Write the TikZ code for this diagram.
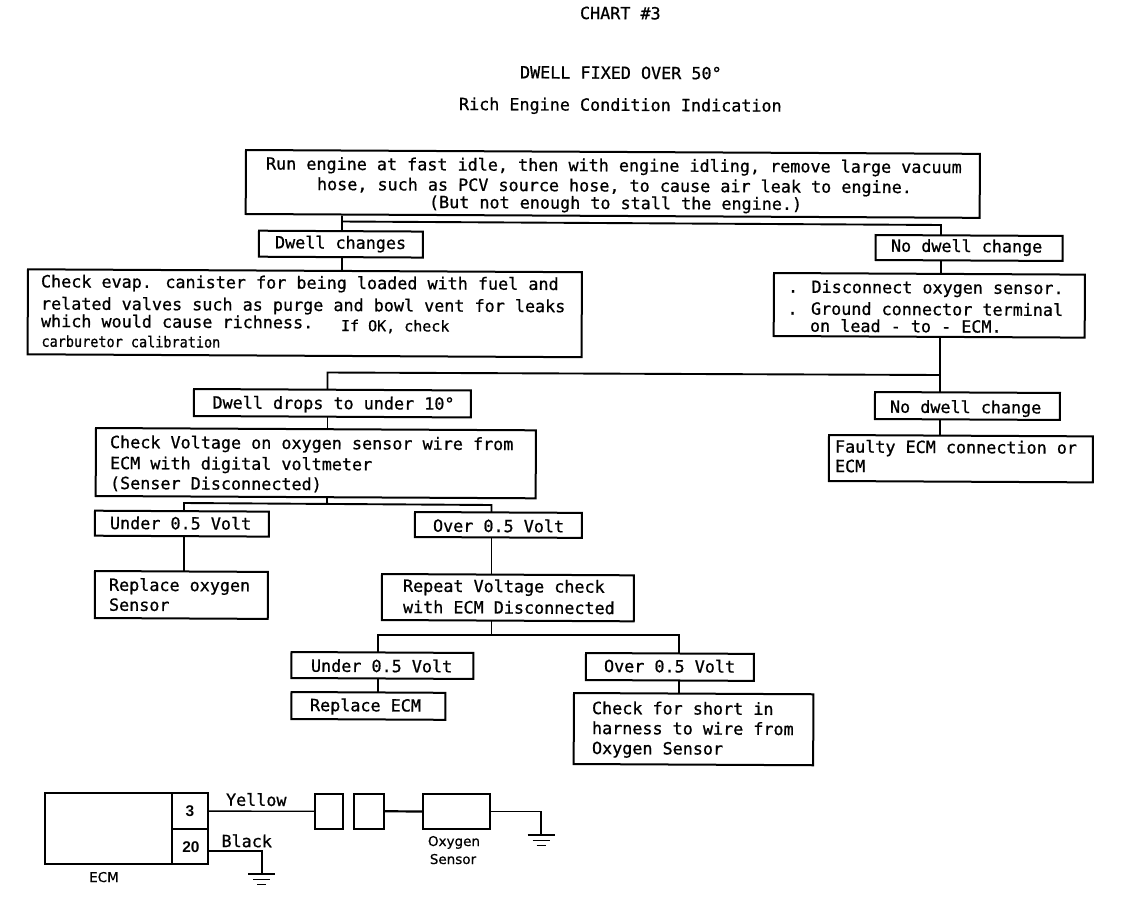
\documentclass[tikz,border=0pt]{standalone}
\usepackage{fontspec}
\setmainfont[RawFeature={embolden=0.8}]{DejaVu Sans Mono}
\newfontfamily\sansf[RawFeature={embolden=0.6}]{DejaVu Sans}
\newfontfamily\pinf{Liberation Sans}
\tikzset{
 bx/.style={draw=black,line width=2pt,fill=white,inner sep=0pt,outer sep=0pt,anchor=north west,rotate=-0.3},
 tx/.style={inner sep=0pt,outer sep=0pt,anchor=base west,rotate=-0.3,font=\fontsize{16.75}{18}\selectfont},
 lnk/.style={draw=black,line width=1.9pt},
 sbx/.style={draw=black,line width=2pt,fill=white,inner sep=0pt,outer sep=0pt,anchor=north west},
 wire/.style={draw=black,line width=1.4pt},
 heavywire/.style={draw=black,line width=2.2pt},
 lab/.style={inner sep=0pt,outer sep=0pt,anchor=base,font=\sansf\fontsize{13.5}{15}\selectfont},
 pin/.style={inner sep=0pt,outer sep=0pt,anchor=center,font=\pinf\bfseries\fontsize{15.5}{17}\selectfont},
}
\newcommand{\bxn}[5]{\node[bx,minimum width=#4pt,minimum height=#5pt] (#1) at (#2pt,-#3pt) {};}
\newcommand{\sbxn}[5]{\node[sbx,minimum width=#4pt,minimum height=#5pt] (#1) at (#2pt,-#3pt) {};}
\newcommand{\tl}[4]{\node[tx] (#1) at (#2pt,-#3pt) {#4};}
\newcommand{\gnd}[3]{%
 \draw[wire] (#1pt,-#2pt) ++(-13.5pt,0) -- ++(27pt,0);
 \draw[wire] (#1pt,-#2pt) ++(-8.5pt,-5.5pt) -- ++(17pt,0);
 \draw[wire,line width=1.8pt] (#1pt,-#2pt) ++(-4.5pt,-10.5pt) -- ++(9pt,0);}
\begin{document}
\begin{tikzpicture}[x=1pt,y=1pt]
\useasboundingbox (0,0) rectangle (1136,-916);
\fill[white] (0,0) rectangle (1136,-916);
% boxes
\bxn{a}{246}{150}{734}{64}
\bxn{b}{259}{230.7}{164}{26}
\bxn{c}{875.7}{235}{187}{25}
\bxn{d}{28}{269.3}{554}{85}
\bxn{e}{774}{273}{311}{63}
\bxn{f}{194}{389}{277}{27}
\bxn{g}{875}{392}{185}{27}
\bxn{h}{96}{428}{440}{68}
\bxn{i}{829}{435}{264}{46}
\bxn{j}{95}{510.7}{174}{25}
\bxn{k}{415}{512}{167}{25}
\bxn{l}{95}{571}{173}{47}
\bxn{m}{382}{574}{252}{46}
\bxn{n}{291.5}{652}{182}{26}
\bxn{o}{586}{653}{168}{27}
\bxn{p}{291.5}{692}{154}{27}
\bxn{q}{574}{693}{239.5}{71}
% junctions
\coordinate (j1) at (342,-221.5);
\coordinate (j2) at (941,-225);
\coordinate (j3) at (327.5,-372.5);
\coordinate (j4) at (940,-375);
\coordinate (j5) at (184,-503);
\coordinate (j6) at (491.5,-505);
\coordinate (j0) at (327,-503.8);
\coordinate (j7) at (377.6,-635);
\coordinate (j8) at (679,-635);
\coordinate (j9) at (491.5,-635);
% connectors
\draw[lnk] (j1 |- a.south) -- (j1) -- (j2) -- (j2 |- c.north);
\draw[lnk] (j1) -- (j1 |- b.north);
\draw[lnk] (j1 |- b.south) -- (j1 |- d.north);
\draw[lnk] (j2 |- c.south) -- (j2 |- e.north);
\draw[lnk] (j4 |- e.south) -- (j4) -- (j4 |- g.north);
\draw[lnk] (j4) -- (j3) -- (j3 |- f.north);
\draw[lnk] (j3 |- f.south) -- (j3 |- h.north);
\draw[lnk] (j4 |- g.south) -- (j4 |- i.north);
\draw[lnk] (j0 |- h.south) -- (j0);
\draw[lnk] (j5 |- j.north) -- (j5) -- (j6) -- (j6 |- k.north);
\draw[lnk] (j5 |- j.south) -- (j5 |- l.north);
\draw[lnk] (j6 |- k.south) -- (j6 |- m.north);
\draw[lnk] (j9 |- m.south) -- (j9);
\draw[lnk] (j7 |- n.north) -- (j7) -- (j8) -- (j8 |- o.north);
\draw[lnk] (j7 |- n.south) -- (j7 |- p.north);
\draw[lnk] (j8 |- o.south) -- (j8 |- q.north);
% titles
\tl{t1}{580}{19}{CHART \#3}
\tl{t2}{520}{78.3}{DWELL FIXED OVER 50\textdegree}
\tl{t3}{459}{110}{Rich Engine Condition Indication}
% text
\tl{ta1}{266}{169.5}{Run engine at fast idle, then with engine idling, remove large vacuum}
\tl{ta2}{317}{190}{hose, such as PCV source hose, to cause air leak to engine.}
\tl{ta3}{429}{208}{(But not enough to stall the engine.)}
\tl{tb}{275}{248.3}{Dwell changes}
\tl{tc}{891}{251.7}{No dwell change}
\tl{td1}{41}{287.3}{Check evap. canister for being loaded with fuel and}
\tl{td2}{41}{309.5}{related valves such as purge and bowl vent for leaks}
\tl{td3}{41}{327}{which would cause richness.}
\node[tx,font=\fontsize{15}{17}\selectfont] (td4) at (341pt,-331pt) {If OK, check};
\node[tx,xscale=0.9,font=\fontsize{15}{17}\selectfont] (td5) at (41.5pt,-346.7pt) {carburetor calibration};
\tl{te1}{788}{292.7}{. Disconnect oxygen sensor.}
\tl{te2}{787.5}{314.5}{. Ground connector terminal}
\tl{te3}{810}{331.7}{on lead - to - ECM.}
\tl{tf}{212.5}{408.5}{Dwell drops to under 10\textdegree}
\tl{tg}{890}{412.7}{No dwell change}
\tl{th1}{110}{448}{Check Voltage on oxygen sensor wire from}
\tl{th2}{110}{469}{ECM with digital voltmeter}
\tl{th3}{110}{489}{(Senser Disconnected)}
\tl{ti1}{835}{452.5}{Faulty ECM connection or}
\tl{ti2}{835}{472}{ECM}
\tl{tj}{110}{529}{Under 0.5 Volt}
\tl{tk}{433}{531.7}{Over 0.5 Volt}
\tl{tl1}{109}{590.7}{Replace oxygen}
\tl{tl2}{109}{610.7}{Sensor}
\tl{tm1}{403}{591.7}{Repeat Voltage check}
\tl{tm2}{403}{613}{with ECM Disconnected}
\tl{tn}{311}{671.7}{Under 0.5 Volt}
\tl{to}{604}{672}{Over 0.5 Volt}
\tl{tp}{310}{711}{Replace ECM}
\tl{tq1}{592}{714}{Check for short in}
\tl{tq2}{592}{734}{harness to wire from}
\tl{tq3}{592}{754}{Oxygen Sensor}
% wiring diagram
\sbxn{ecm}{45}{793.3}{127.4}{71}
\sbxn{p3}{172.4}{793.3}{35.6}{35.7}
\sbxn{p20}{172.4}{829}{35.6}{35.3}
\sbxn{c1}{315}{793.5}{28}{35.5}
\sbxn{c2}{354.4}{793.5}{29.6}{35.5}
\sbxn{sen}{423}{794}{67.4}{35}
\coordinate (g1) at (541,-835);
\coordinate (g2) at (261.7,-874);
\draw[wire] (p3.east) -- (c1.west);
\draw[heavywire] (c2.east) -- (sen.west);
\draw[wire] (sen.east) -| (g1);
\draw[heavywire] (p20.east) ++(0,-4pt) -| (g2);
\gnd{541}{835}{}
\gnd{261.7}{874}{}
\node[pin] (n3) at (190pt,-811pt) {3};
\node[pin] (n20) at (191pt,-847pt) {20};
\node[tx,rotate=0] (ly) at (226pt,-805.7pt) {Yellow};
\node[tx,rotate=0] (lb) at (221.5pt,-847pt) {Black};
\node[lab] (le) at (104pt,-882pt) {ECM};
\node[lab] (lo) at (454pt,-846pt) {Oxygen};
\node[lab] (ls) at (453pt,-864pt) {Sensor};
\end{tikzpicture}
\end{document}
